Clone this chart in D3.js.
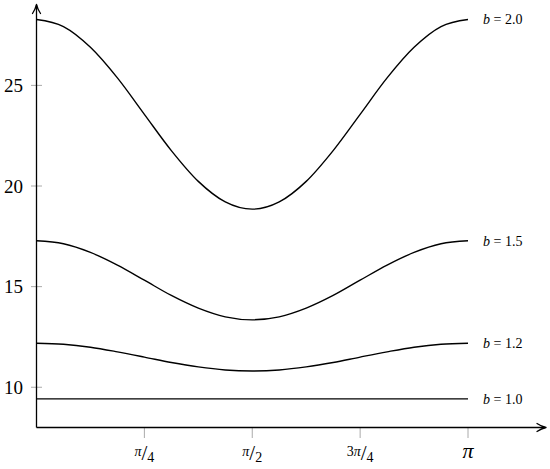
<!DOCTYPE html>
<html>
<head>
<meta charset="utf-8">
<script src="https://cdn.jsdelivr.net/npm/d3@7"></script>
<style>
html,body{margin:0;padding:0;background:#fff;}
svg text{font-family:"Liberation Serif","Times New Roman",serif;}
</style>
</head>
<body>
<svg id="chart" width="550" height="469"></svg>
<script>
// theta samples (radians), 0 .. pi in steps of pi/16
const theta = [0, 0.1963, 0.3927, 0.5890, 0.7854, 0.9817, 1.1781, 1.3744, 1.5708,
               1.7671, 1.9635, 2.1598, 2.3562, 2.5525, 2.7489, 2.9452, 3.1416];
const bLabels = ["2.0", "1.5", "1.2", "1.0"];
const valsB20 = [28.27, 27.92, 26.89, 25.37, 23.56, 21.76, 20.23, 19.21, 18.85,
                 19.21, 20.23, 21.76, 23.56, 25.37, 26.89, 27.92, 28.27];
const valsB15 = [17.28, 17.13, 16.70, 16.07, 15.32, 14.56, 13.93, 13.50, 13.35,
                 13.50, 13.93, 14.56, 15.32, 16.07, 16.70, 17.13, 17.28];
const valsB12 = [12.19, 12.14, 11.99, 11.76, 11.50, 11.23, 11.01, 10.86, 10.81,
                 10.86, 11.01, 11.23, 11.50, 11.76, 11.99, 12.14, 12.19];
const valsB10 = [9.42, 9.42, 9.42, 9.42, 9.42, 9.42, 9.42, 9.42, 9.42,
                 9.42, 9.42, 9.42, 9.42, 9.42, 9.42, 9.42, 9.42];
const yTicks = [10, 15, 20, 25];
const xTickVals = [0.7854, 1.5708, 2.3562, 3.1416];
const xTickNum = ["π", "π", "3π", ""];
const xTickDen = ["4", "2", "4", ""];

const series = [valsB20, valsB15, valsB12, valsB10];
const FONT = "Liberation Serif, Times New Roman, serif";

const svg = d3.select("#chart");
const x = d3.scaleLinear().domain([0, Math.PI]).range([36.5, 468]);
const y = d3.scaleLinear().domain([8, 28]).range([427.5, 25]);

// gray ticks
const tickColor = "#a0a0a0";
svg.append("g").selectAll("line").data(yTicks).join("line")
  .attr("x1", 31).attr("x2", 42)
  .attr("y1", d => y(d)).attr("y2", d => y(d))
  .attr("stroke", tickColor).attr("stroke-width", 0.9);
svg.append("g").selectAll("line").data(xTickVals).join("line")
  .attr("x1", d => x(d)).attr("x2", d => x(d))
  .attr("y1", 428).attr("y2", 438)
  .attr("stroke", tickColor).attr("stroke-width", 0.9);

// y tick labels
svg.append("g").selectAll("text").data(yTicks).join("text")
  .attr("font-family", FONT)
  .attr("x", 23).attr("y", d => y(d)).attr("dy", "0.35em")
  .attr("text-anchor", "end").attr("font-size", 19)
  .text(d => d);

// x tick labels (nicefrac style)
const xl = svg.append("g").attr("font-family", FONT);
xTickVals.forEach((v, i) => {
  const cx = x(v);
  if (xTickDen[i] === "") {
    xl.append("text").attr("x", cx).attr("y", 458)
      .attr("text-anchor", "middle").attr("font-size", 22)
      .attr("font-style", "italic").text("π");
    return;
  }
  const t = xl.append("text").attr("x", cx).attr("y", 459)
    .attr("text-anchor", "middle");
  const num = xTickNum[i];
  if (num.length > 1) {
    t.append("tspan").attr("font-size", 14).attr("dy", -3).text(num[0]);
    t.append("tspan").attr("font-size", 14).attr("font-style", "italic").text(num.slice(1));
  } else {
    t.append("tspan").attr("font-size", 14).attr("dy", -3).attr("font-style", "italic").text(num);
  }
  t.append("tspan").attr("font-size", 21).attr("dy", 4).text("/");
  t.append("tspan").attr("font-size", 14).attr("dy", 2).text(xTickDen[i]);
});

// axes
svg.append("line").attr("x1", 36.5).attr("x2", 36.5).attr("y1", 427.5).attr("y2", 5)
  .attr("stroke", "#000").attr("stroke-width", 1.3);
svg.append("line").attr("x1", 36.5).attr("x2", 545).attr("y1", 427.5).attr("y2", 427.5)
  .attr("stroke", "#000").attr("stroke-width", 1.3);
// arrowheads
svg.append("path")
  .attr("d", "M32.5,13.5 Q35.5,9 36.5,4.5 Q37.5,9 40.5,13.5")
  .attr("fill", "none").attr("stroke", "#000").attr("stroke-width", 1.3)
  .attr("stroke-linecap", "round").attr("stroke-linejoin", "round");
svg.append("path")
  .attr("d", "M537,423.5 Q541.5,426.5 546,427.5 Q541.5,428.5 537,431.5")
  .attr("fill", "none").attr("stroke", "#000").attr("stroke-width", 1.3)
  .attr("stroke-linecap", "round").attr("stroke-linejoin", "round");

// curves
const line = d3.line()
  .x((d, i) => x(theta[i]))
  .y(d => y(d))
  .curve(d3.curveMonotoneX);
svg.append("g").selectAll("path").data(series).join("path")
  .attr("d", d => line(d))
  .attr("fill", "none").attr("stroke", "#000").attr("stroke-width", 1.4);

// series labels
const lg = svg.append("g").attr("font-family", FONT);
series.forEach((s, i) => {
  const t = lg.append("text").attr("x", 483).attr("y", y(s[s.length - 1]))
    .attr("dy", "0.35em").attr("font-size", 14);
  t.append("tspan").attr("font-style", "italic").text("b");
  t.append("tspan").text(" = " + bLabels[i]);
});
</script>
</body>
</html>
